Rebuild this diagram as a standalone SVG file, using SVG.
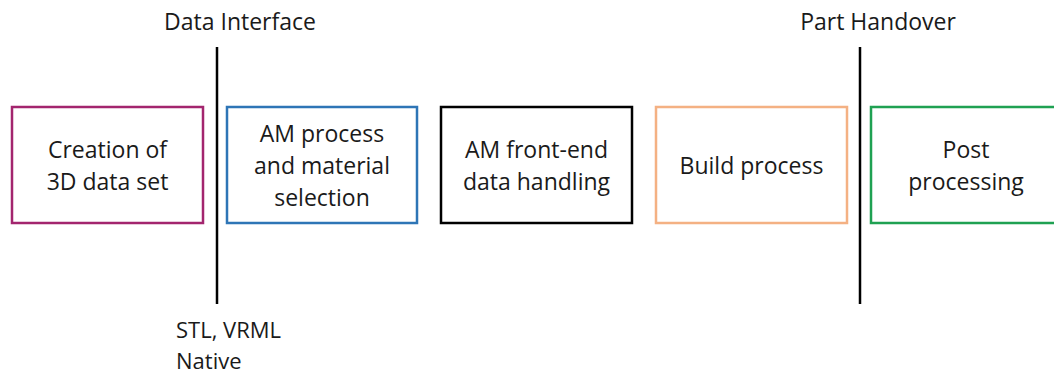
<svg xmlns="http://www.w3.org/2000/svg" width="1054" height="377" viewBox="0 0 1054 377">
<style>
text{font-family:"Open Sans","Liberation Sans",sans-serif;fill:#1a1a1a;}
.bt{font-size:23px;text-anchor:middle;}
.lt{font-size:23px;}
.ft{font-size:22px;}
.box{fill:#fff;stroke-width:2.5;}
.div{stroke:#000;stroke-width:2.5;}
</style>
<rect width="1054" height="377" fill="#fff"/>
<g id="connectors">
<line class="div" x1="217" y1="47" x2="217" y2="304"/>
<line class="div" x1="860" y1="47" x2="860" y2="304"/>
</g>
<g id="label-data-interface"><text class="lt" x="240" y="30" text-anchor="middle">Data Interface</text></g>
<g id="label-part-handover"><text class="lt" x="878" y="30" text-anchor="middle">Part Handover</text></g>
<g id="label-formats"><text class="ft" x="176" y="338">STL, VRML</text><text class="ft" x="176" y="369">Native</text></g>
<g id="node-creation">
<rect class="box" x="12" y="107" width="191" height="116" stroke="#A3256E"/>
<text class="bt" x="107.5" y="158">Creation of</text>
<text class="bt" x="107.5" y="190">3D data set</text>
</g>
<g id="node-selection">
<rect class="box" x="227" y="107" width="190" height="116" stroke="#2E75B6"/>
<text class="bt" x="322" y="142">AM process</text>
<text class="bt" x="322" y="174">and material</text>
<text class="bt" x="322" y="206">selection</text>
</g>
<g id="node-frontend">
<rect class="box" x="441" y="107" width="191" height="116" stroke="#000" stroke-width="3"/>
<text class="bt" x="536.5" y="158">AM front-end</text>
<text class="bt" x="536.5" y="190">data handling</text>
</g>
<g id="node-build">
<rect class="box" x="656" y="107" width="191" height="116" stroke="#F4B183"/>
<text class="bt" x="751.5" y="174">Build process</text>
</g>
<g id="node-post">
<rect class="box" x="871" y="107" width="190" height="116" stroke="#1FA152"/>
<text class="bt" x="966" y="158">Post</text>
<text class="bt" x="966" y="190">processing</text>
</g>
</svg>
